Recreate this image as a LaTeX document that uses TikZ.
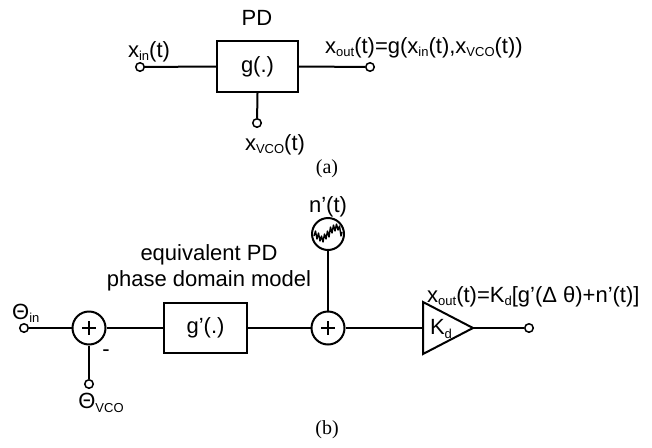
\documentclass[tikz,border=0pt]{standalone}
\usepackage{fontspec}
\setmainfont{Liberation Sans}
\newfontfamily\timesfont{Liberation Serif}
\newcommand{\sbs}[1]{\raisebox{-0.28ex}{\fontsize{13pt}{13pt}\selectfont #1}}
\begin{document}
\begin{tikzpicture}[x=1pt,y=-1pt,
  wire/.style={line width=2pt},
  term/.style={circle,draw,fill=white,line width=1.5pt,minimum size=8.5pt,inner sep=0pt},
  blk/.style={draw,line width=2pt,inner sep=0pt},
  sumc/.style={circle,draw,line width=2pt,minimum size=33pt,inner sep=0pt},
  lbl/.style={inner sep=0pt,font=\fontsize{22pt}{24pt}\selectfont},
  captxt/.style={inner sep=0pt,font=\timesfont\fontsize{20pt}{22pt}\selectfont}]
\useasboundingbox (0,0) rectangle (652,447);
% ---------- (a) ----------
\node[lbl] (pd) at (257,18) {PD};
\node[blk,minimum width=81pt,minimum height=51pt,lbl] (g) at (257.5,66.5) {g(.)};
\node[term] (ain) at (140,67) {};
\node[term] (aout) at (370,67) {};
\node[term] (avco) at (257,123) {};
\draw[wire] (ain) -- (g.west);
\draw[wire] (g.east) -- (aout);
\draw[wire] (g.south) -- (avco);
\node[lbl] (xin) at (149,52) {x\sbs{in}(t)};
\node[lbl,anchor=west] (xout) at (325,48) {x\sbs{out}(t)=g(x\sbs{in}(t),x\sbs{VCO}(t))};
\node[lbl] (xvco) at (275,145) {x\sbs{VCO}(t)};
\node[captxt] (capa) at (327,169) {(a)};
% ---------- (b) ----------
\node[term] (bin) at (24,328) {};
\node[lbl,anchor=west] (thin) at (12,313) {Θ\sbs{in}};
\node[sumc] (s1) at (89,328) {};
\draw[line width=2pt] (s1.center) ++(-7,0) -- ++(14,0);
\draw[line width=2pt] (s1.center) ++(0,-7) -- ++(0,14);
\node[lbl] (minus) at (106,353) {-};
\node[term] (bvco) at (89,384) {};
\node[lbl] (thvco) at (101,403) {Θ\sbs{VCO}};
\node[blk,minimum width=83pt,minimum height=50pt,lbl] (gp) at (205.5,328) {g’(.)};
\node[lbl] (eq1) at (209,255) {equivalent PD};
\node[lbl] (eq2) at (209,281) {phase domain model};
\node[sumc] (s2) at (328,328) {};
\draw[line width=2pt] (s2.center) ++(-7,0) -- ++(14,0);
\draw[line width=2pt] (s2.center) ++(0,-7) -- ++(0,14);
\node[sumc,minimum size=32pt] (noise) at (328,234) {};
\draw[line width=1.4pt,line join=round]
  (314,236) -- (315.5,231) -- (317,239) -- (318.5,233) -- (320,241) -- (321.5,236)
  -- (323,242) -- (324.5,234) -- (326,239) -- (327.5,231) -- (329,237) -- (330.5,227)
  -- (332,233) -- (333.5,225) -- (335,231) -- (336.5,224) -- (338,230) -- (339.5,226)
  -- (341,236) -- (342,232);
\node[lbl] (np) at (328,207) {n’(t)};
\coordinate (ampin) at (423,328);
\coordinate (amptip) at (473,328);
\draw[line width=2pt,line join=miter] (423,302) -- (473,328) -- (423,354) -- cycle;
\node[lbl] (kd) at (441,329) {K\sbs{d}};
\node[term] (bout) at (529,328) {};
\draw[wire] (bin) -- (s1);
\draw[wire] (s1) -- (gp);
\draw[wire] (s1) -- (bvco);
\draw[wire] (gp) -- (s2);
\draw[wire] (noise) -- (s2);
\draw[wire] (s2) -- (ampin);
\draw[wire] (amptip) -- (bout);
\node[lbl,anchor=west] (xoutb) at (427,297) {x\sbs{out}(t)=K\sbs{d}[g’(Δ θ)+n’(t)]};
\node[captxt] (capb) at (327,430) {(b)};
\end{tikzpicture}
\end{document}
